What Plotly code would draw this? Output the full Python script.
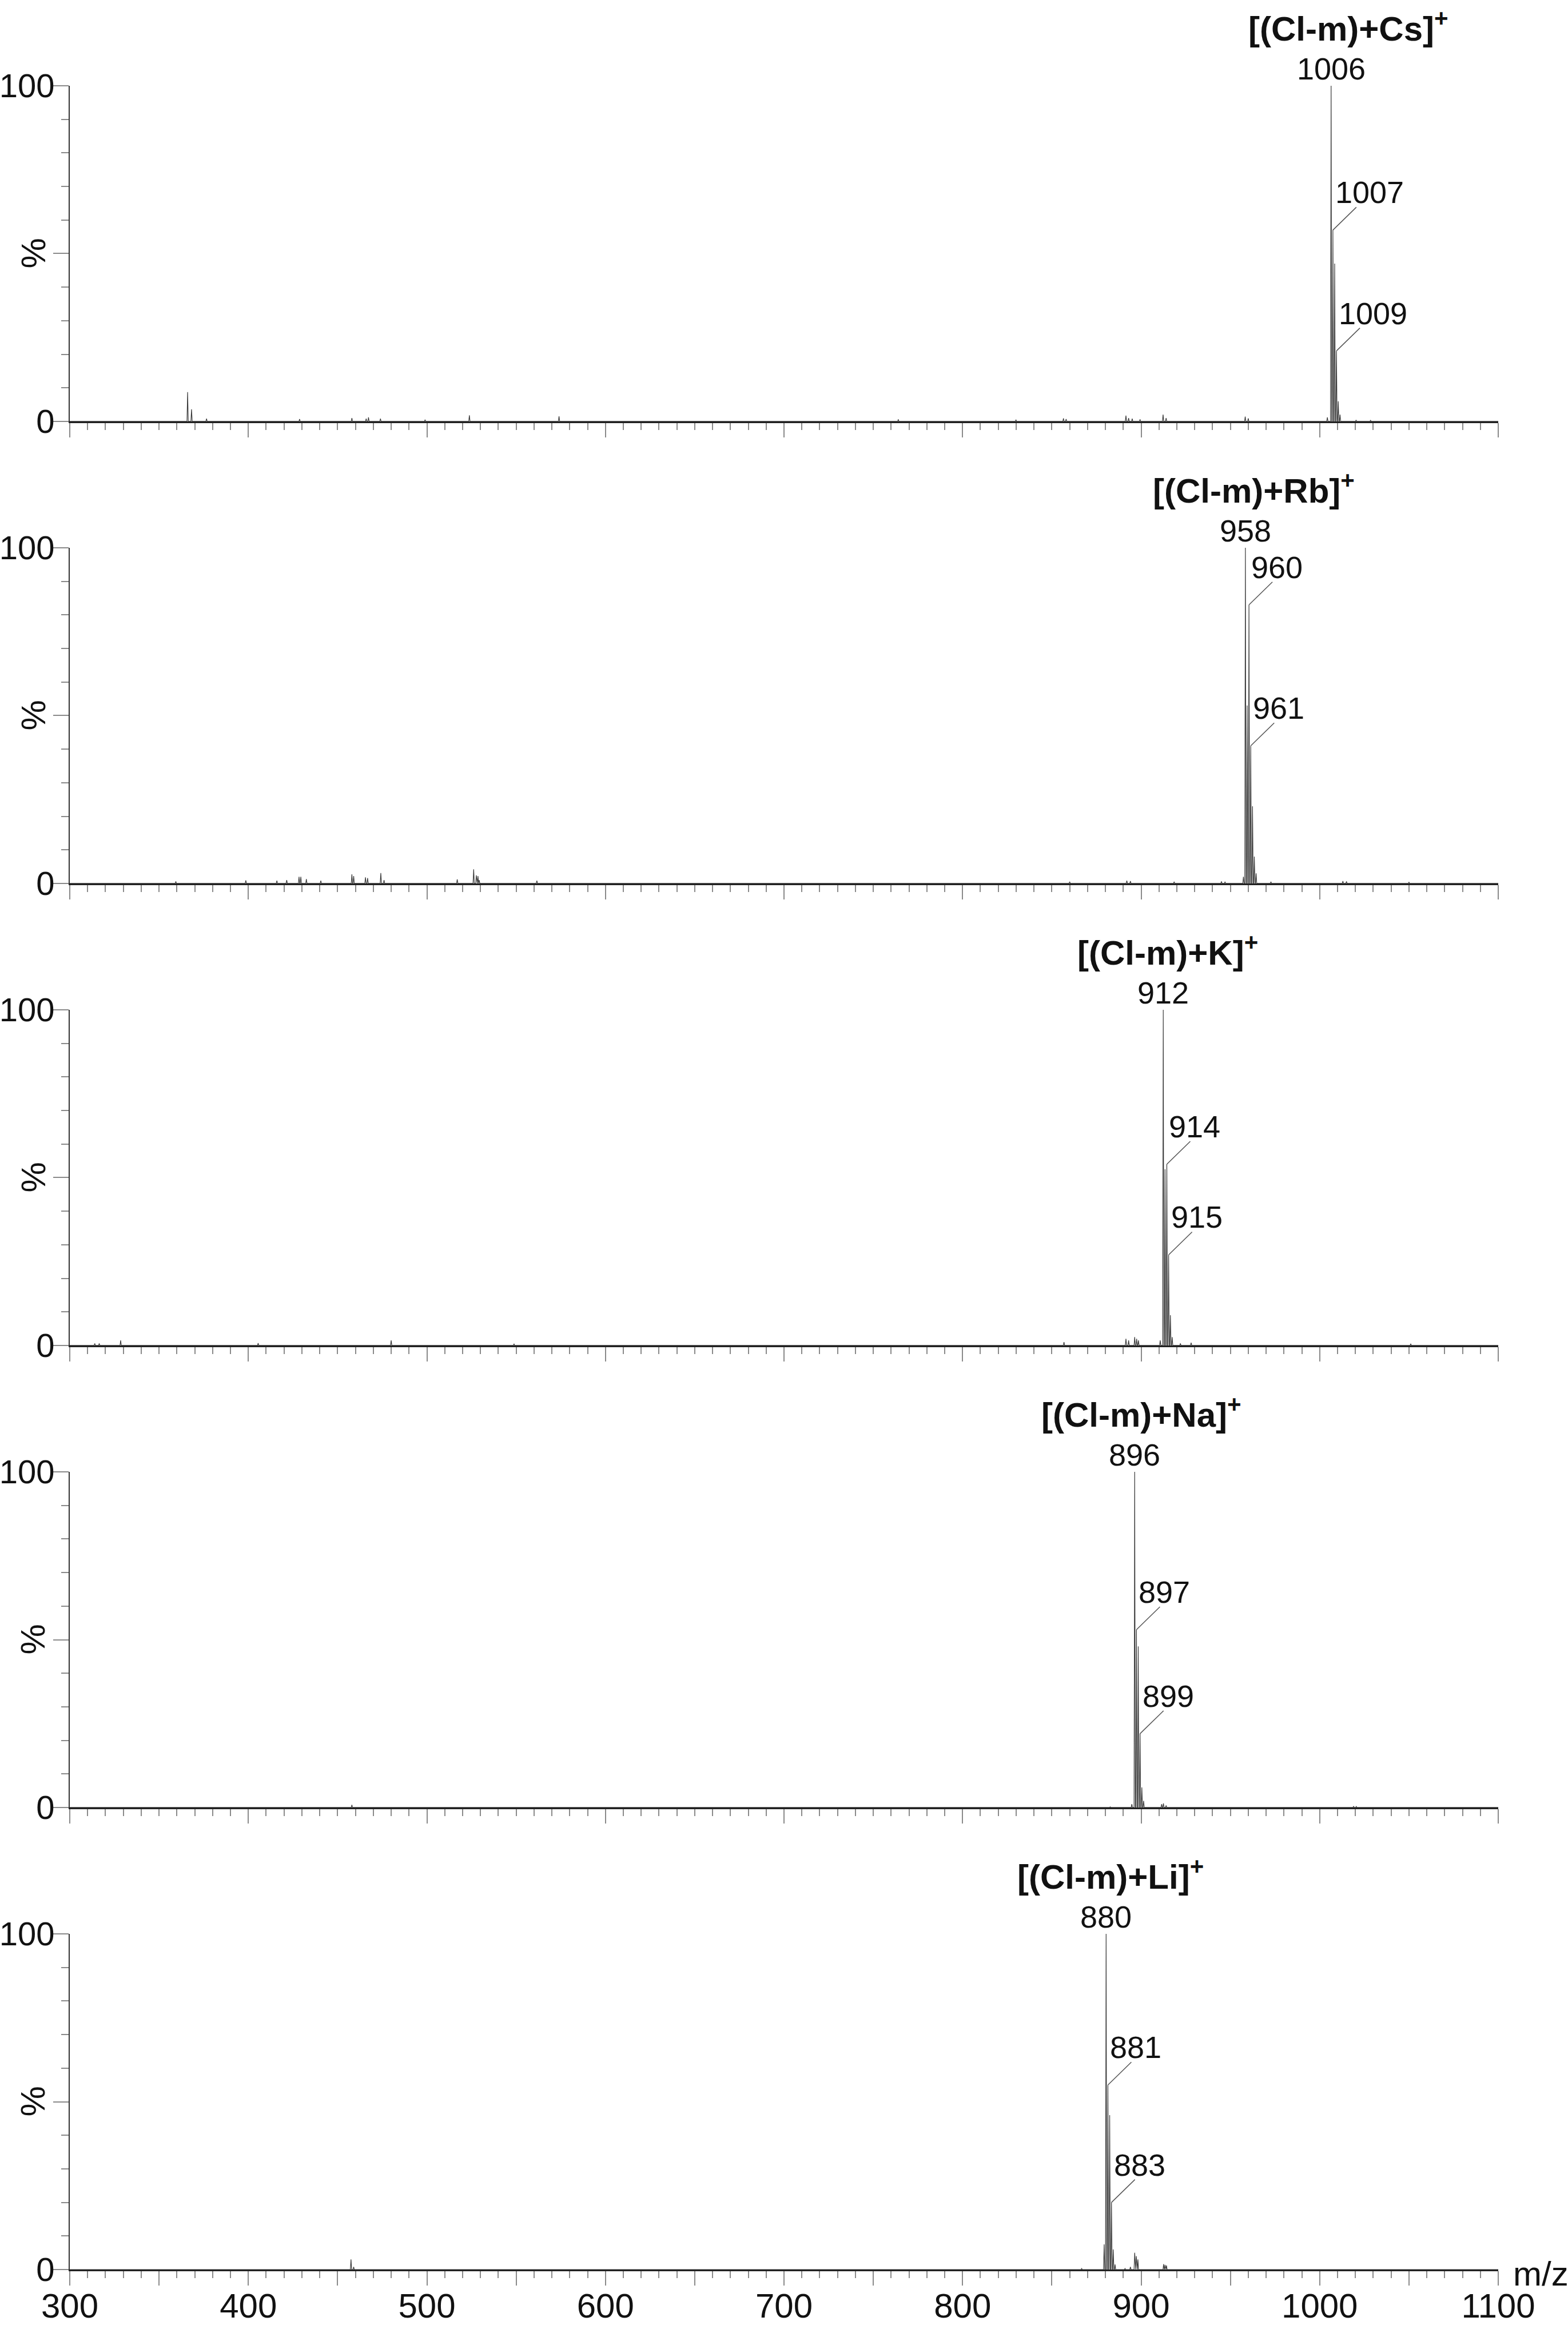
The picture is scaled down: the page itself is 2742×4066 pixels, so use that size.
"""
Stacked ESI mass spectra of the Cl-m adducts with alkali cations (Cs, Rb, K, Na, Li).
"""
import plotly.graph_objects as go
from plotly.subplots import make_subplots

# ---- data (m/z, relative intensity %) ----
cs_mz = [366.0, 368.2, 376.6, 428.7, 458.0, 466.0, 467.3, 474.0, 499.0, 523.8, 574.0,
         764.0, 829.9, 856.5, 858.0, 891.5, 893.0, 895.0, 899.4, 912.3, 914.0, 958.3, 960.0,
         1004.3, 1006.4, 1007.4, 1008.4, 1009.4, 1010.4, 1011.4, 1020.4, 1028.5]
cs_int = [8.7, 3.6, 0.8, 0.7, 1.0, 0.8, 1.2, 0.8, 0.5, 1.8, 1.5,
          0.6, 0.5, 0.9, 0.7, 1.7, 1.0, 0.8, 0.6, 2.0, 1.0, 1.4, 0.9,
          1.2, 100, 57, 47, 21, 6, 2, 0.4, 0.3]

rb_mz = [359.4, 398.6, 416.0, 421.5, 428.4, 429.4, 432.5, 440.6, 458.0, 459.0, 465.6, 466.8,
         474.2, 476.0, 517.0, 526.2, 527.7, 528.6, 529.3, 561.6, 860.0, 892.0, 894.0, 918.5,
         945.0, 947.0, 957.3, 958.4, 959.4, 960.4, 961.4, 962.4, 963.4, 964.4, 972.7,
         1013.0, 1015.0, 1050.0]
rb_int = [0.6, 0.9, 0.8, 1.0, 2.0, 2.0, 1.3, 0.8, 2.7, 2.2, 1.8, 1.6,
          3.1, 1.0, 1.2, 4.2, 2.4, 2.2, 1.0, 0.8, 0.5, 0.8, 0.7, 0.5,
          0.6, 0.5, 2.0, 100, 53, 83, 41, 23, 8, 3, 0.5,
          0.7, 0.6, 0.4]

k_mz = [314.0, 316.5, 328.5, 405.5, 480.0, 548.8, 856.8, 891.5, 893.0, 896.4, 897.5, 898.5,
        910.7, 912.4, 913.4, 914.4, 915.4, 916.4, 917.4, 922.0, 928.0, 1051.0]
k_int = [0.6, 0.6, 1.5, 0.7, 1.5, 0.5, 1.0, 2.0, 1.5, 2.5, 2.0, 1.5,
         1.5, 100, 52.5, 54, 27, 9, 2.5, 0.6, 0.8, 0.5]

na_mz = [458.0, 882.7, 894.8, 896.4, 897.4, 898.4, 899.4, 900.4, 901.4, 911.5, 912.5, 914.0,
         1019.0, 1020.5]
na_int = [0.8, 0.2, 1.0, 100, 53, 48, 22, 6, 2, 1.0, 1.2, 0.6,
          0.4, 0.3]

li_mz = [457.5, 459.0, 866.7, 879.3, 880.4, 881.4, 882.4, 883.4, 884.4, 885.4, 891.0, 894.0,
         896.4, 897.3, 898.2, 912.6, 913.4, 914.2]
li_int = [3.0, 0.8, 0.3, 7.5, 100, 55, 46, 20, 6, 1.5, 0.3, 0.8,
          5.0, 4.0, 3.0, 1.6, 1.4, 1.2]

titles = ['[(Cl-m)+Cs]<sup>+</sup>', '[(Cl-m)+Rb]<sup>+</sup>', '[(Cl-m)+K]<sup>+</sup>',
          '[(Cl-m)+Na]<sup>+</sup>', '[(Cl-m)+Li]<sup>+</sup>']
title_x = [1016, 963, 915, 900, 883]

# base peak label and the two labelled isotope peaks of each panel
base_peaks = [1006.4, 958.4, 912.4, 896.4, 880.4]
iso_peaks = [[1007.4, 1009.4], [960.4, 961.4], [914.4, 915.4], [897.4, 899.4], [881.4, 883.4]]

x_ticks = list(range(300, 1101, 50))
x_ticktext = [str(v) if v % 100 == 0 else '' for v in x_ticks]

FONT = 'Liberation Sans, Arial, sans-serif'
LINE = '#3a3a3a'
TICK = '#8a8a8a'
HALF_W = 0.35  # peak half-width in m/z units

spectra = [(cs_mz, cs_int), (rb_mz, rb_int), (k_mz, k_int), (na_mz, na_int), (li_mz, li_int)]


def profile(mz, inten):
    """Turn a centroid list into a thin profile trace."""
    xs, ys = [300], [0]
    for m, h in sorted(zip(mz, inten)):
        xs += [m - HALF_W, m, m + HALF_W]
        ys += [0, h, 0]
    xs.append(1100)
    ys.append(0)
    return xs, ys


fig = make_subplots(rows=5, cols=1, vertical_spacing=0.0579)

for i, (mz, inten) in enumerate(spectra):
    row = i + 1
    xs, ys = profile(mz, inten)
    fig.add_trace(go.Scatter(x=xs, y=ys, mode='lines', line=dict(color=LINE, width=1.2),
                             hoverinfo='skip', showlegend=False), row=row, col=1)

    xr = 'x' if row == 1 else f'x{row}'
    yr = 'y' if row == 1 else f'y{row}'

    # panel title
    fig.add_annotation(x=title_x[i], y=100, xref=xr, yref=yr, text=f'<b>{titles[i]}</b>',
                       showarrow=False, yanchor='middle', yshift=104,
                       font=dict(size=60, color='#111', family=FONT))
    # base peak label
    bp = base_peaks[i]
    fig.add_annotation(x=bp, y=inten[mz.index(bp)], xref=xr, yref=yr,
                       text=f'{int(bp)}', showarrow=False, yanchor='bottom', yshift=-2,
                       font=dict(size=54, color='#111', family=FONT))
    # isotope labels with leader lines
    for p in iso_peaks[i]:
        h = inten[mz.index(p)]
        fig.add_shape(type='line', xref=xr, yref=yr, xsizemode='pixel', ysizemode='pixel',
                      xanchor=p, yanchor=h, x0=0, y0=0, x1=41, y1=40,
                      line=dict(color='#555', width=1.5))
        fig.add_annotation(x=p, y=h, xref=xr, yref=yr, text=f'{int(p)}', showarrow=False,
                           xanchor='left', yanchor='bottom', xshift=2, yshift=34,
                           font=dict(size=54, color='#111', family=FONT))
    # y axis label
    fig.add_annotation(x=0, y=0.5, xref=f'{xr} domain', yref=f'{yr} domain', text='%',
                       showarrow=False, textangle=-90, xanchor='center', yanchor='middle',
                       xshift=-64, font=dict(size=60, color='#111', family=FONT))

    fig.update_xaxes(range=[300, 1100], tickvals=x_ticks, ticktext=x_ticktext,
                     ticks='outside', ticklen=25, tickwidth=2, tickcolor=TICK,
                     minor=dict(dtick=10, tick0=300, ticks='outside', ticklen=12,
                                tickwidth=2, tickcolor=TICK),
                     showline=True, linecolor='#222', linewidth=3, automargin=False,
                     showgrid=False, zeroline=False, showticklabels=(row == 5),
                     ticklabelstandoff=-16,
                     tickfont=dict(size=60, color='#111', family=FONT), row=row, col=1)
    fig.update_yaxes(range=[0, 100], tickvals=[0, 50, 100], ticktext=['0', '', '100'],
                     ticks='outside', ticklen=27, tickwidth=2, tickcolor=TICK,
                     minor=dict(dtick=10, ticks='outside', ticklen=13,
                                tickwidth=2, tickcolor=TICK),
                     showline=True, linecolor='#333', linewidth=2, automargin=False,
                     showgrid=False, zeroline=False, ticklabelstandoff=-14,
                     tickfont=dict(size=58, color='#111', family=FONT), row=row, col=1)

fig.add_annotation(x=1, y=0, xref='x5 domain', yref='y5', text='m/z', showarrow=False,
                   xanchor='left', yanchor='middle', xshift=24, yshift=-8,
                   font=dict(size=60, color='#111', family=FONT))

fig.update_layout(width=2742, height=4066, margin=dict(l=122, r=122, t=150, b=97),
                  paper_bgcolor='white', plot_bgcolor='white', showlegend=False,
                  font=dict(family=FONT, color='#111'))

fig.write_html('out.html', config={'displayModeBar': False},
               post_script="document.body.style.margin='0';")
